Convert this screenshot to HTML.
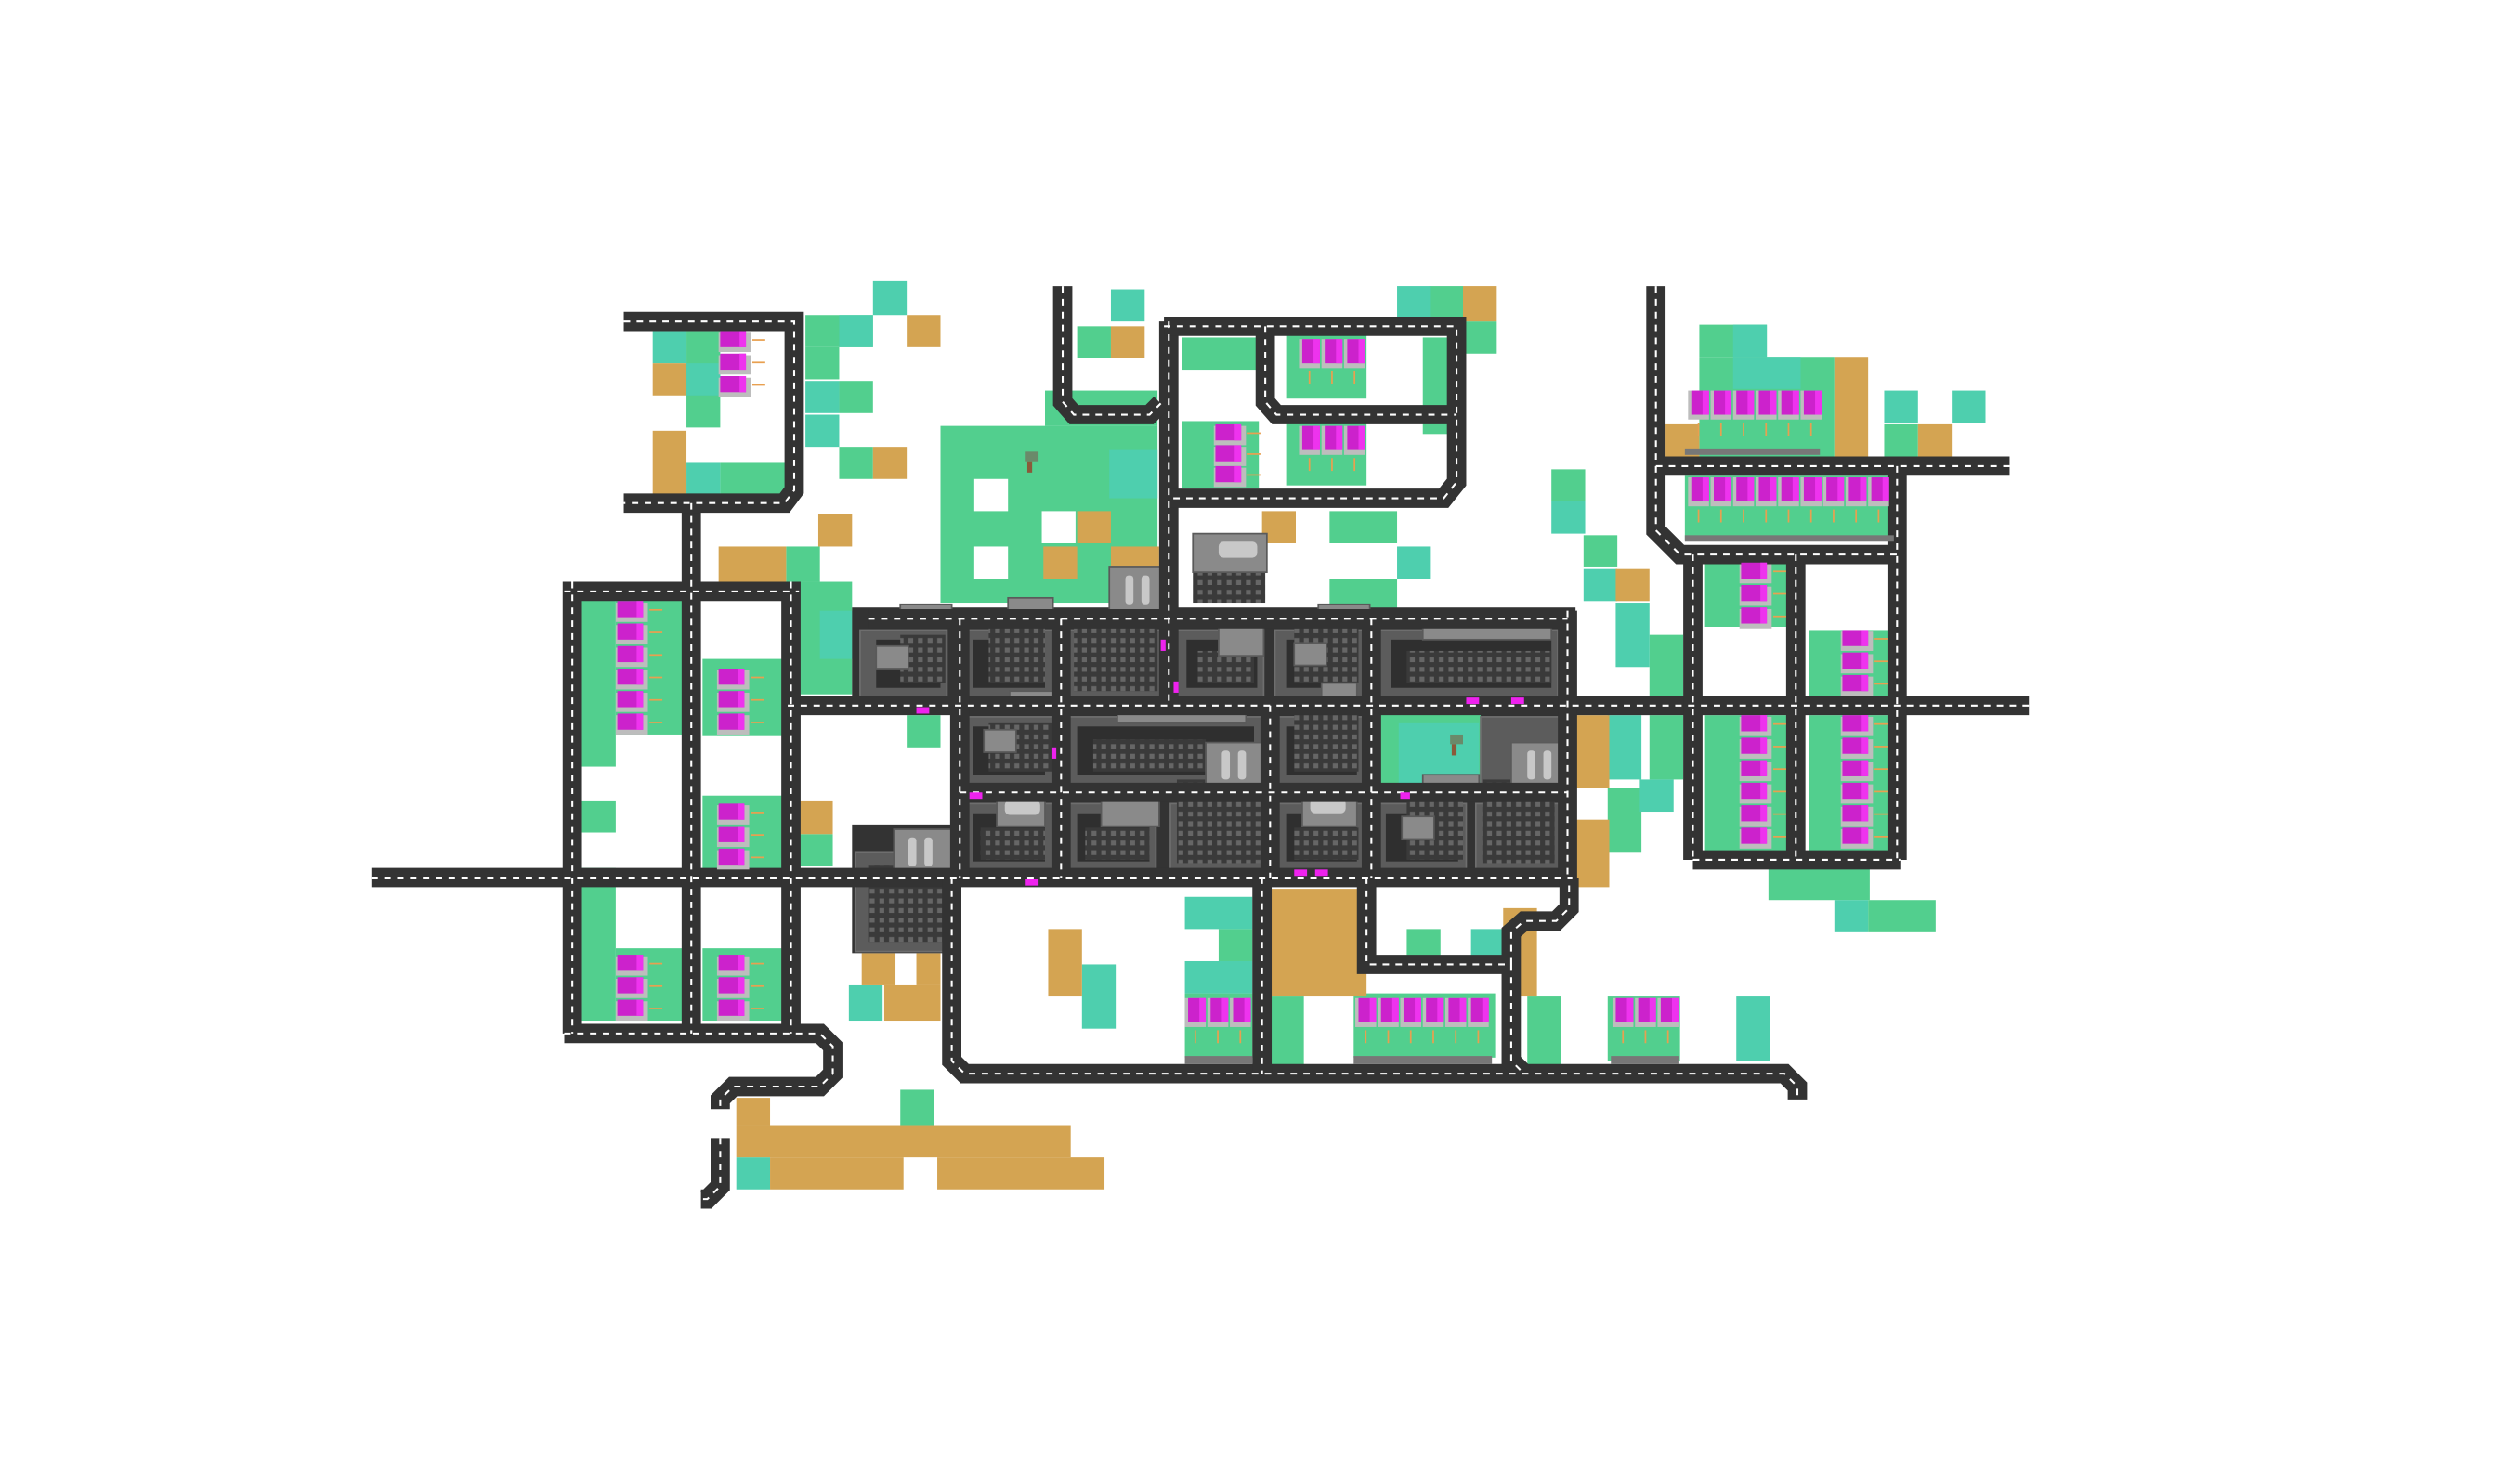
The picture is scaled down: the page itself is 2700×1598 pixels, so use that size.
<!DOCTYPE html>
<html><head><meta charset="utf-8"><style>
html,body{margin:0;padding:0;background:#fff;}
svg{display:block;}
</style></head><body>
<svg width="2700" height="1598" viewBox="0 0 1560 923.3" preserveAspectRatio="none" xmlns="http://www.w3.org/2000/svg">
<defs>
<pattern id="win" width="6" height="6" patternUnits="userSpaceOnUse"><rect width="6" height="6" fill="#3a3a3a"/><rect x="1" y="1" width="3" height="3" fill="#666"/></pattern>
<g id="hs"><rect x="0" y="1" width="20" height="12" fill="#bdbdbd"/><rect x="1" y="0" width="16" height="10" fill="#cc22cc"/><rect x="13" y="0" width="4" height="10" fill="#ee33ee"/><rect x="21" y="5" width="8" height="1" fill="#e8a050"/></g>
<g id="hr"><rect x="0" y="0" width="13" height="18" fill="#bdbdbd"/><rect x="2" y="0" width="11" height="15" fill="#cc22cc"/><rect x="9" y="0" width="4" height="15" fill="#ee33ee"/><rect x="6" y="20" width="1" height="8" fill="#e8a050"/></g>
</defs>

<!-- terrain -->
<g fill="#52cf8e">
<rect x="501" y="196" width="42" height="20"/><rect x="427" y="206" width="21" height="60"/><rect x="501" y="216" width="21" height="20"/><rect x="522" y="237" width="21" height="20"/><rect x="448" y="288" width="42" height="20"/><rect x="522" y="278" width="21" height="20"/><rect x="489" y="340" width="21" height="22"/><rect x="497" y="362" width="33" height="70"/><rect x="564" y="445" width="21" height="20"/><rect x="497" y="519" width="21" height="20"/>
<rect x="362" y="372" width="21" height="105"/><rect x="362" y="498" width="21" height="20"/><rect x="362" y="540" width="21" height="95"/><rect x="437" y="410" width="55" height="48"/><rect x="437" y="495" width="55" height="48"/><rect x="383" y="590" width="45" height="45"/><rect x="437" y="590" width="55" height="45"/><rect x="383" y="372" width="45" height="85"/>
<rect x="585" y="265" width="135" height="110"/><rect x="650" y="243" width="70" height="22"/><rect x="670" y="203" width="21" height="20"/><rect x="735" y="210" width="50" height="20"/><rect x="885" y="210" width="20" height="60"/><rect x="910" y="200" width="21" height="20"/><rect x="889" y="178" width="21" height="22"/><rect x="827" y="318" width="42" height="20"/><rect x="827" y="360" width="42" height="20"/><rect x="735" y="262" width="48" height="42"/><rect x="800" y="208" width="50" height="40"/><rect x="800" y="262" width="50" height="40"/>
<rect x="965" y="292" width="21" height="20"/><rect x="985" y="333" width="21" height="20"/><rect x="1026" y="395" width="21" height="40"/><rect x="1000" y="490" width="21" height="40"/><rect x="1026" y="445" width="21" height="40"/>
<rect x="1057" y="202" width="42" height="20"/><rect x="1057" y="222" width="84" height="62"/><rect x="1172" y="264" width="21" height="20"/><rect x="1048" y="296" width="130" height="40"/><rect x="1060" y="350" width="52" height="40"/><rect x="1125" y="392" width="52" height="44"/><rect x="1060" y="445" width="52" height="85"/><rect x="1125" y="445" width="52" height="85"/>
<rect x="1100" y="540" width="63" height="20"/><rect x="1162" y="560" width="42" height="20"/>
<rect x="758" y="578" width="21" height="20"/><rect x="790" y="620" width="21" height="45"/><rect x="875" y="578" width="21" height="20"/><rect x="950" y="620" width="21" height="45"/><rect x="1000" y="620" width="45" height="40"/><rect x="737" y="618" width="42" height="40"/><rect x="842" y="618" width="88" height="40"/><rect x="560" y="678" width="21" height="22"/>
</g>
<g fill="#fff"><rect x="606" y="298" width="21" height="20"/><rect x="648" y="318" width="21" height="20"/><rect x="606" y="340" width="21" height="20"/></g>
<g fill="#4ecfae">
<rect x="543" y="175" width="21" height="21"/><rect x="522" y="196" width="21" height="20"/><rect x="406" y="206" width="21" height="20"/><rect x="427" y="226" width="21" height="20"/><rect x="501" y="237" width="21" height="20"/><rect x="501" y="258" width="21" height="20"/><rect x="427" y="288" width="21" height="20"/><rect x="510" y="380" width="20" height="30"/>
<rect x="691" y="180" width="21" height="20"/><rect x="869" y="178" width="21" height="22"/><rect x="869" y="340" width="21" height="20"/><rect x="690" y="280" width="30" height="30"/>
<rect x="965" y="312" width="21" height="20"/><rect x="985" y="354" width="21" height="20"/><rect x="1005" y="375" width="21" height="40"/><rect x="1000" y="445" width="21" height="40"/><rect x="1020" y="485" width="21" height="20"/>
<rect x="1078" y="202" width="21" height="20"/><rect x="1078" y="222" width="42" height="20"/><rect x="1172" y="243" width="21" height="20"/><rect x="1214" y="243" width="21" height="20"/>
<rect x="1141" y="560" width="21" height="20"/><rect x="737" y="558" width="42" height="20"/><rect x="737" y="598" width="42" height="20"/><rect x="673" y="600" width="21" height="40"/><rect x="528" y="613" width="21" height="22"/><rect x="915" y="578" width="21" height="20"/><rect x="1080" y="620" width="21" height="40"/><rect x="458" y="720" width="21" height="20"/>
</g>
<g fill="#d4a452">
<rect x="564" y="196" width="21" height="20"/><rect x="406" y="226" width="21" height="20"/><rect x="406" y="268" width="21" height="40"/><rect x="543" y="278" width="21" height="20"/><rect x="509" y="320" width="21" height="20"/><rect x="447" y="340" width="42" height="22"/><rect x="497" y="498" width="21" height="21"/>
<rect x="910" y="178" width="21" height="22"/><rect x="691" y="203" width="21" height="20"/><rect x="670" y="318" width="21" height="20"/><rect x="649" y="340" width="21" height="20"/><rect x="691" y="340" width="30" height="20"/><rect x="785" y="318" width="21" height="20"/>
<rect x="1005" y="354" width="21" height="20"/><rect x="980" y="445" width="21" height="45"/><rect x="980" y="510" width="21" height="42"/>
<rect x="1141" y="222" width="21" height="62"/><rect x="1193" y="264" width="21" height="20"/><rect x="1036" y="264" width="21" height="20"/>
<rect x="790" y="553" width="60" height="67"/><rect x="652" y="578" width="21" height="42"/><rect x="536" y="593" width="21" height="20"/><rect x="550" y="613" width="35" height="22"/><rect x="570" y="593" width="15" height="20"/><rect x="935" y="565" width="21" height="55"/>
<rect x="458" y="683" width="21" height="17"/><rect x="458" y="700" width="208" height="20"/><rect x="479" y="720" width="83" height="20"/><rect x="583" y="720" width="104" height="20"/>
</g>

<!-- central gray complex base -->
<g fill="#333">
<rect x="530" y="378" width="450" height="62"/>
<rect x="597" y="437" width="383" height="111"/>
<rect x="530" y="513" width="67" height="80"/>
</g>
<rect x="859" y="443" width="62" height="48" fill="#52cf8e"/>
<rect x="870" y="450" width="50" height="40" fill="#4ecfae"/>
<g fill="#5c5c5c" stroke="#6e6e6e" stroke-width="1">
<rect x="535" y="392" width="54" height="42"/><rect x="600" y="392" width="55" height="42"/><rect x="664" y="392" width="58" height="42"/><rect x="731" y="392" width="55" height="42"/><rect x="793" y="392" width="55" height="42"/><rect x="857" y="392" width="112" height="42"/>
<rect x="600" y="446" width="55" height="42"/><rect x="664" y="446" width="122" height="42"/><rect x="793" y="446" width="55" height="42"/><rect x="921" y="446" width="49" height="44"/>
<rect x="600" y="500" width="55" height="42"/><rect x="664" y="500" width="55" height="42"/><rect x="728" y="500" width="58" height="42"/><rect x="793" y="500" width="55" height="42"/><rect x="857" y="500" width="55" height="42"/><rect x="918" y="500" width="52" height="42"/>
<rect x="532" y="530" width="60" height="62"/>
</g>
<!-- building tops -->
<g fill="#2f2f2f">
<rect x="545" y="398" width="40" height="30"/><rect x="605" y="398" width="45" height="30"/><rect x="670" y="398" width="48" height="30"/><rect x="738" y="398" width="44" height="30"/><rect x="800" y="398" width="44" height="30"/><rect x="865" y="398" width="100" height="30"/>
<rect x="605" y="452" width="45" height="30"/><rect x="670" y="452" width="110" height="30"/><rect x="800" y="452" width="44" height="30"/>
<rect x="605" y="506" width="45" height="30"/><rect x="670" y="506" width="45" height="30"/><rect x="800" y="506" width="44" height="30"/><rect x="862" y="506" width="45" height="30"/>
</g>
<g fill="url(#win)">
<rect x="560" y="395" width="28" height="30"/><rect x="615" y="385" width="35" height="40"/><rect x="668" y="380" width="52" height="50"/><rect x="745" y="405" width="35" height="20"/><rect x="805" y="385" width="40" height="40"/><rect x="875" y="405" width="90" height="20"/>
<rect x="615" y="450" width="40" height="30"/><rect x="680" y="460" width="70" height="20"/><rect x="805" y="440" width="40" height="40"/>
<rect x="610" y="515" width="40" height="20"/><rect x="675" y="515" width="40" height="20"/><rect x="732" y="485" width="52" height="52"/><rect x="805" y="515" width="40" height="20"/><rect x="875" y="495" width="35" height="40"/><rect x="922" y="485" width="45" height="52"/>
<rect x="540" y="538" width="50" height="48"/>
<rect x="690" y="380" width="35" height="5"/><rect x="742" y="355" width="45" height="20"/>
</g>
<g fill="#8a8a8a" stroke="#5a5a5a" stroke-width="1">
<rect x="560" y="376" width="32" height="14"/><rect x="627" y="372" width="28" height="16"/><rect x="690" y="353" width="38" height="28"/><rect x="742" y="332" width="46" height="24"/><rect x="820" y="376" width="32" height="14"/><rect x="885" y="384" width="80" height="14"/>
<rect x="545" y="402" width="20" height="14"/><rect x="758" y="386" width="28" height="22"/><rect x="805" y="400" width="20" height="14"/>
<rect x="628" y="430" width="30" height="13"/><rect x="612" y="454" width="20" height="14"/><rect x="695" y="436" width="80" height="14"/><rect x="750" y="462" width="38" height="28"/><rect x="822" y="425" width="22" height="14"/>
<rect x="620" y="492" width="30" height="22"/><rect x="685" y="492" width="36" height="22"/><rect x="810" y="492" width="34" height="22"/><rect x="885" y="482" width="35" height="14"/><rect x="872" y="508" width="20" height="14"/><rect x="940" y="462" width="38" height="28"/>
<rect x="556" y="516" width="38" height="28"/>
</g>
<g fill="#c8c8c8"><rect x="700" y="358" width="5" height="18" rx="2"/><rect x="710" y="358" width="5" height="18" rx="2"/><rect x="760" y="467" width="5" height="18" rx="2"/><rect x="770" y="467" width="5" height="18" rx="2"/><rect x="950" y="467" width="5" height="18" rx="2"/><rect x="960" y="467" width="5" height="18" rx="2"/><rect x="565" y="521" width="5" height="18" rx="2"/><rect x="575" y="521" width="5" height="18" rx="2"/><rect x="758" y="337" width="24" height="10" rx="3"/><rect x="625" y="498" width="22" height="9" rx="3"/><rect x="815" y="497" width="22" height="9" rx="3"/></g>

<!-- roads -->
<g fill="none" stroke="#333" stroke-width="12" stroke-linejoin="miter">
<path d="M231 546 H978"/>
<path d="M490 439 H1262"/>
<path d="M356 362 V643 M430 313 V643 M492 362 V546 M492 546 V643 M351 368 H497 M351 643 H510 L518 651 V668 L510 676 H456 L448 684 V690"/>
<path d="M448 708 V738 L440 746 H436"/>
<path d="M388 200 H494 V305 L488 313 H388"/>
<path d="M540 385 H975 M597 385 V546 M660 385 V546 M727 200 V439 M790 439 V546 M853 385 V546 M975 380 V546 M597 493 H975"/>
<path d="M592 546 V660 L600 668 H1110 L1118 676 V684"/>
<path d="M785 546 V668"/>
<path d="M850 546 V600 H940 V660 L948 668 M940 600 V580 L948 573 H968 L976 565 V546"/>
<path d="M661 178 V250 L668 258 H715 L722 251 M724 203 H906 V300 L898 310 H727 M787 203 V250 L794 258 H906"/>
<path d="M1030 178 V330 L1045 345 H1182 M1030 290 H1250 M1053 345 V535 M1117 345 V535 M1180 290 V535 M1053 535 H1182"/>
</g>
<g fill="none" stroke="#fff" stroke-width="1.2" stroke-dasharray="4 4">
<path d="M231 546 H978"/>
<path d="M490 439 H1262"/>
<path d="M356 362 V643 M430 313 V643 M492 362 V546 M492 546 V643 M351 368 H497 M351 643 H510 L518 651 V668 L510 676 H456 L448 684 V690"/>
<path d="M448 708 V738 L440 746 H436"/>
<path d="M388 200 H494 V305 L488 313 H388"/>
<path d="M540 385 H975 M597 385 V546 M660 385 V546 M727 200 V439 M790 439 V546 M853 385 V546 M975 380 V546 M597 493 H975"/>
<path d="M592 546 V660 L600 668 H1110 L1118 676 V684"/>
<path d="M785 546 V668"/>
<path d="M850 546 V600 H940 V660 L948 668 M940 600 V580 L948 573 H968 L976 565 V546"/>
<path d="M661 178 V250 L668 258 H715 L722 251 M724 203 H906 V300 L898 310 H727 M787 203 V250 L794 258 H906"/>
<path d="M1030 178 V330 L1045 345 H1182 M1030 290 H1250 M1053 345 V535 M1117 345 V535 M1180 290 V535 M1053 535 H1182"/>
</g>

<!-- stacked houses -->
<g>
<use href="#hs" x="447" y="206"/><use href="#hs" x="447" y="220"/><use href="#hs" x="447" y="234"/>
<use href="#hs" x="383" y="374"/><use href="#hs" x="383" y="388"/><use href="#hs" x="383" y="402"/><use href="#hs" x="383" y="416"/><use href="#hs" x="383" y="430"/><use href="#hs" x="383" y="444"/>
<use href="#hs" x="446" y="416"/><use href="#hs" x="446" y="430"/><use href="#hs" x="446" y="444"/>
<use href="#hs" x="446" y="500"/><use href="#hs" x="446" y="514"/><use href="#hs" x="446" y="528"/>
<use href="#hs" x="383" y="594"/><use href="#hs" x="383" y="608"/><use href="#hs" x="383" y="622"/>
<use href="#hs" x="446" y="594"/><use href="#hs" x="446" y="608"/><use href="#hs" x="446" y="622"/>
<use href="#hs" x="755" y="264"/><use href="#hs" x="755" y="277"/><use href="#hs" x="755" y="290"/>
<use href="#hs" x="1082" y="350"/><use href="#hs" x="1082" y="364"/><use href="#hs" x="1082" y="378"/>
<use href="#hs" x="1145" y="392"/><use href="#hs" x="1145" y="406"/><use href="#hs" x="1145" y="420"/>
<use href="#hs" x="1082" y="445"/><use href="#hs" x="1082" y="459"/><use href="#hs" x="1082" y="473"/><use href="#hs" x="1082" y="487"/><use href="#hs" x="1082" y="501"/><use href="#hs" x="1082" y="515"/>
<use href="#hs" x="1145" y="445"/><use href="#hs" x="1145" y="459"/><use href="#hs" x="1145" y="473"/><use href="#hs" x="1145" y="487"/><use href="#hs" x="1145" y="501"/><use href="#hs" x="1145" y="515"/>
</g>
<!-- row houses -->
<g>
<use href="#hr" x="808" y="211"/><use href="#hr" x="822" y="211"/><use href="#hr" x="836" y="211"/>
<use href="#hr" x="808" y="265"/><use href="#hr" x="822" y="265"/><use href="#hr" x="836" y="265"/>
<use href="#hr" x="1050" y="243"/><use href="#hr" x="1064" y="243"/><use href="#hr" x="1078" y="243"/><use href="#hr" x="1092" y="243"/><use href="#hr" x="1106" y="243"/><use href="#hr" x="1120" y="243"/>
<use href="#hr" x="1050" y="297"/><use href="#hr" x="1064" y="297"/><use href="#hr" x="1078" y="297"/><use href="#hr" x="1092" y="297"/><use href="#hr" x="1106" y="297"/><use href="#hr" x="1120" y="297"/><use href="#hr" x="1134" y="297"/><use href="#hr" x="1148" y="297"/><use href="#hr" x="1162" y="297"/>
<use href="#hr" x="737" y="621"/><use href="#hr" x="751" y="621"/><use href="#hr" x="765" y="621"/>
<use href="#hr" x="843" y="621"/><use href="#hr" x="857" y="621"/><use href="#hr" x="871" y="621"/><use href="#hr" x="885" y="621"/><use href="#hr" x="899" y="621"/><use href="#hr" x="913" y="621"/>
<use href="#hr" x="1003" y="621"/><use href="#hr" x="1017" y="621"/><use href="#hr" x="1031" y="621"/>
</g>
<g fill="#777"><rect x="1048" y="279" width="84" height="4"/><rect x="1048" y="333" width="130" height="4"/><rect x="737" y="657" width="42" height="5"/><rect x="842" y="657" width="86" height="5"/><rect x="1002" y="657" width="42" height="5"/></g>
<!-- cars and trees -->
<g fill="#ee22ee"><rect x="570" y="440" width="8" height="4"/><rect x="912" y="434" width="8" height="4"/><rect x="940" y="434" width="8" height="4"/><rect x="603" y="493" width="8" height="4"/><rect x="638" y="547" width="8" height="4"/><rect x="805" y="541" width="8" height="4"/><rect x="818" y="541" width="8" height="4"/><rect x="871" y="493" width="6" height="4"/><rect x="722" y="398" width="3" height="7"/><rect x="730" y="424" width="3" height="7"/><rect x="654" y="465" width="3" height="7"/></g>
<g fill="#6a8a6a"><rect x="638" y="281" width="8" height="6"/><rect x="902" y="457" width="8" height="6"/></g>
<g fill="#8a5a3a"><rect x="639" y="287" width="3" height="7"/><rect x="903" y="463" width="3" height="7"/></g>
</svg>
</body></html>
